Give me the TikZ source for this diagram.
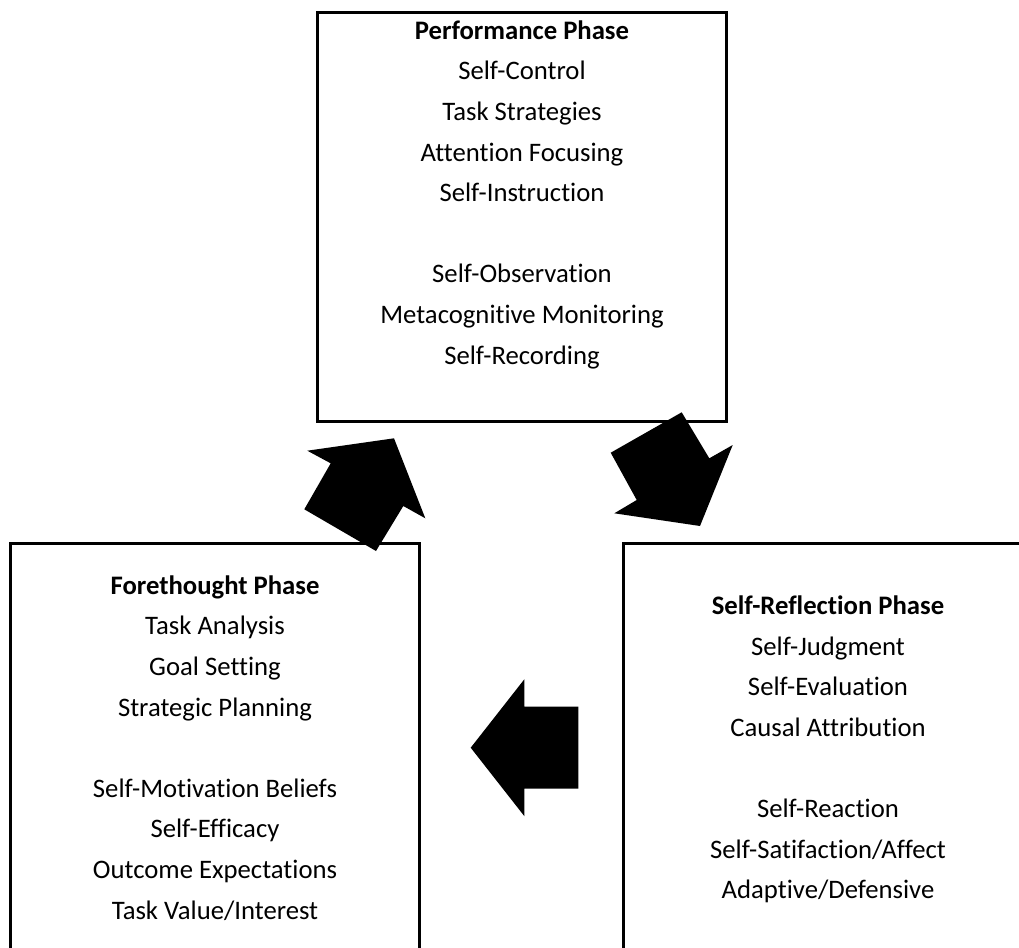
\documentclass[tikz,border=0pt]{standalone}
\usepackage{fontspec}
\setmainfont{Carlito}[Ligatures=NoCommon]
\begin{document}
\begin{tikzpicture}[x=1pt,y=-1pt,
  phasebox/.style={draw=black,line width=2.6pt,rectangle,inner sep=0pt,outer sep=0pt,
    minimum width=409pt,minimum height=409pt,anchor=north west},
  phasetext/.style={align=center,inner sep=0pt,anchor=north,
    font=\fontsize{26.7}{40.6}\selectfont},
  blockarrow/.style={fill=black}]
\useasboundingbox (0,0) rectangle (1019,947);
\clip (0,0) rectangle (1019,947);

% the three phase boxes (lower two run past the page edge)
\node[phasebox] (perf) at (317.5,12.5) {};
\node[phasebox] (fore) at (10.5,543.5) {};
\node[phasebox] (refl) at (623.5,543.5) {};

% box contents
\node[phasetext] (perftext) at ([yshift=-6.5pt]perf.north) {\rule{0pt}{20pt}\textbf{Performance Phase}\\
  Self-Control\\ Task Strategies\\ Attention Focusing\\ Self-Instruction\\[40.6pt]
  Self-Observation\\ Metacognitive Monitoring\\ Self-Recording};
\node[phasetext] (foretext) at ([yshift=-30.5pt]fore.north) {\rule{0pt}{20pt}\textbf{Forethought Phase}\\
  Task Analysis\\ Goal Setting\\ Strategic Planning\\[40.6pt]
  Self-Motivation Beliefs\\ Self-Efficacy\\ Outcome Expectations\\ Task Value/Interest};
\node[phasetext] (refltext) at ([yshift=-51pt]refl.north) {\rule{0pt}{20pt}\textbf{Self-Reflection Phase}\\
  Self-Judgment\\ Self-Evaluation\\ Causal Attribution\\[40.6pt]
  Self-Reaction\\ Self-Satifaction/Affect\\ Adaptive/Defensive};

% block arrows of the cycle
\fill[blockarrow] (394,438.3) -- (425.3,518.3) -- (403.3,506) -- (376,551)
  -- (304.3,509.3) -- (330.7,463.3) -- (307.3,450.7) -- cycle;
\fill[blockarrow] (681.7,412.3) -- (709.3,458.3) -- (732.7,445) -- (700,526)
  -- (614.3,513.3) -- (636.7,500) -- (610.7,452.7) -- cycle;
\fill[blockarrow] (470.7,747.7) -- (524.3,679.3) -- (524.3,706.7) -- (578.3,706.7)
  -- (578.3,788.7) -- (524.3,788.7) -- (524.3,816.1) -- cycle;
\end{tikzpicture}
\end{document}
